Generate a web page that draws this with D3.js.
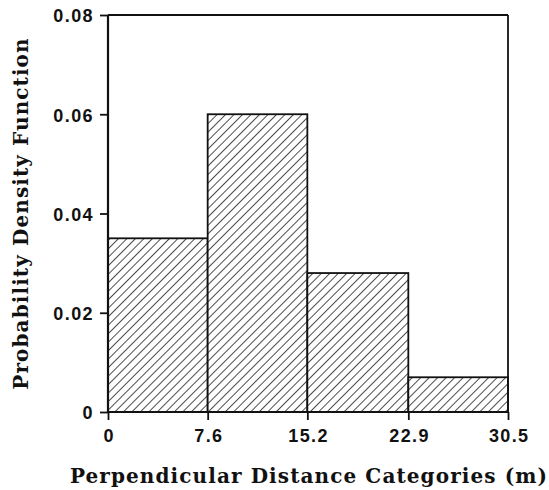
<!DOCTYPE html>
<html><head><meta charset="utf-8">
<script src="https://cdn.jsdelivr.net/npm/d3@7"></script>
<style>
html,body{margin:0;padding:0;background:#fff;}
svg text{font-family:"DejaVu Serif",serif;font-weight:bold;fill:#111;}
</style></head>
<body>
<svg id="chart" width="549" height="490"></svg>
<script>
const binEdges = [0, 7.6, 15.2, 22.9, 30.5];
const densities = [0.035, 0.060, 0.028, 0.007];
const yTickValues = [0, 0.02, 0.04, 0.06, 0.08];
const xTickLabels = ["0", "7.6", "15.2", "22.9", "30.5"];
const xTitle = "Perpendicular Distance Categories (m)";
const yTitle = "Probability Density Function";

const svg = d3.select("#chart");
const m = {left:108, right:41, top:15, bottom:78};
const W = 549, H = 490;
const x = d3.scaleLinear().domain([0, 30.5]).range([m.left, W - m.right]);
const y = d3.scaleLinear().domain([0, 0.08]).range([H - m.bottom, m.top]);

const defs = svg.append("defs");
const pat = defs.append("pattern").attr("id","hatch")
  .attr("patternUnits","userSpaceOnUse").attr("width",6).attr("height",6)
  .attr("patternTransform","rotate(45)");
pat.append("rect").attr("width",6).attr("height",6).attr("fill","#fff");
pat.append("line").attr("x1",0).attr("y1",0).attr("x2",0).attr("y2",6)
  .attr("stroke","#111").attr("stroke-width",1.5);

const bins = densities.map((d,i)=>({x0:binEdges[i], x1:binEdges[i+1], v:d}));
svg.append("g").selectAll("rect").data(bins).join("rect")
  .attr("x", d=>x(d.x0)).attr("width", d=>x(d.x1)-x(d.x0))
  .attr("y", d=>y(d.v)).attr("height", d=>y(0)-y(d.v))
  .attr("fill","url(#hatch)").attr("stroke","#111").attr("stroke-width",1.8);

// frame
svg.append("line").attr("x1",x(0)).attr("x2",x(30.5)).attr("y1",y(0.08)).attr("y2",y(0.08))
  .attr("stroke","#111").attr("stroke-width",1.8);
svg.append("line").attr("x1",x(30.5)).attr("x2",x(30.5)).attr("y1",y(0.08)).attr("y2",y(0))
  .attr("stroke","#111").attr("stroke-width",1.8);

const yAxis = d3.axisLeft(y).tickValues(yTickValues).tickSize(8).tickPadding(6)
  .tickFormat(d => d === 0 ? "0" : d3.format(".2f")(d));
const gy = svg.append("g").attr("transform",`translate(${m.left},0)`).call(yAxis);
const xAxis = d3.axisBottom(x).tickValues(binEdges).tickSize(8).tickPadding(9)
  .tickFormat((d,i) => xTickLabels[i]);
const gx = svg.append("g").attr("transform",`translate(0,${H - m.bottom})`).call(xAxis);
[gx, gy].forEach(g => {
  g.select(".domain").attr("stroke","#111").attr("stroke-width",2.2);
  g.selectAll(".tick line").attr("stroke","#111").attr("stroke-width",1.8);
  g.selectAll(".tick text").style("font-family","'Liberation Sans', Arial, sans-serif").style("font-weight","bold")
    .style("font-size","18px").style("letter-spacing","1.4px").attr("fill","#111");
});
gy.selectAll(".tick text").attr("dy","0.38em");
gx.selectAll(".tick text").attr("dx","0.7px");
gy.select(".domain").attr("d", `M0,${y(0.08)}V${y(0)}`);
gx.select(".domain").attr("d", `M${x(0)},0H${x(30.5)}`);

svg.append("text").attr("x", (x(0)+x(30.5))/2 + 1).attr("y", 483)
  .attr("text-anchor","middle").style("font-size","20px").style("letter-spacing","1.1px").text(xTitle);
svg.append("text").attr("transform",`translate(28,${(y(0)+y(0.08))/2}) rotate(-90)`)
  .attr("text-anchor","middle").style("font-size","20px").style("letter-spacing","1.1px").text(yTitle);
</script>
</body></html>
